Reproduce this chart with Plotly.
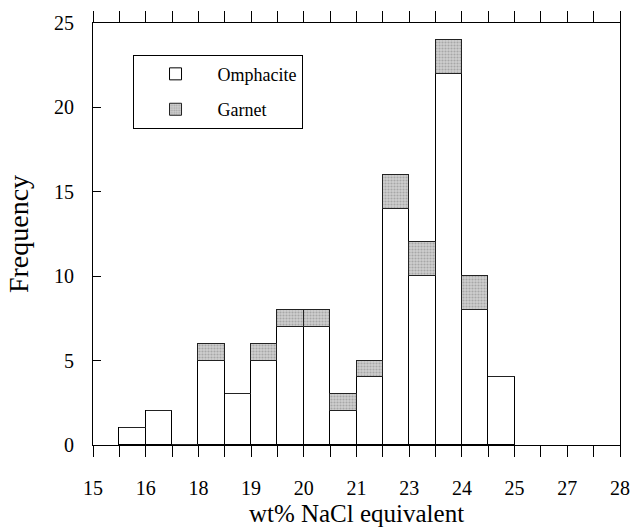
import plotly.graph_objects as go

# Bin centres (wt% NaCl equivalent, 0.5-wide bins on a 15-25 axis)
bin_centers = [15.75, 16.25, 16.75, 17.25, 17.75, 18.25, 18.75, 19.25,
               19.75, 20.25, 20.75, 21.25, 21.75, 22.25, 22.75]
omphacite = [1, 2, 0, 5, 3, 5, 7, 7, 2, 4, 14, 10, 22, 8, 4]
garnet = [0, 0, 0, 1, 0, 1, 1, 1, 1, 1, 2, 2, 2, 2, 0]

# Axis ticks (as printed on the original figure)
x_tick_vals = [15 + 0.5 * i for i in range(21)]
x_label_text = ["15", "16", "18", "19", "20", "21", "23", "24", "25", "27", "28"]
x_tick_text = [x_label_text[i // 2] if i % 2 == 0 else "" for i in range(21)]
y_tick_vals = [0, 5, 10, 15, 20, 25]

FONT = "Liberation Serif"

fig = go.Figure()
fig.add_trace(go.Bar(
    x=bin_centers, y=omphacite, name="Omphacite", width=0.5,
    marker=dict(color="white", line=dict(color="black", width=1)),
    legendgroup="a",
))
fig.add_trace(go.Bar(
    x=bin_centers, y=garnet, name="Garnet", width=0.5,
    marker=dict(color="#c8c8c8", line=dict(color="#222", width=1),
                pattern=dict(shape=".", fgcolor="#808080", bgcolor="#cfcfcf",
                             size=3, solidity=0.4)),
    legendgroup="b",
))

fig.update_layout(
    width=634, height=527,
    margin=dict(l=93, r=14, t=23, b=82),
    barmode="stack", bargap=0,
    paper_bgcolor="white", plot_bgcolor="white",
    font=dict(family=FONT, size=20, color="black"),
    showlegend=True,
    legend=dict(
        x=0.075, y=0.925, xanchor="left", yanchor="top",
        bordercolor="black", borderwidth=1, bgcolor="white",
        font=dict(family=FONT, size=18, color="black"),
        traceorder="grouped", tracegroupgap=9, itemwidth=74,
    ),
    xaxis=dict(
        range=[15, 25], tickmode="array", tickvals=x_tick_vals, ticktext=x_tick_text,
        ticks="outside", ticklen=11, tickwidth=1, tickcolor="black",
        showline=True, linecolor="black", linewidth=1, mirror="ticks",
        showgrid=False, zeroline=False, ticklabelstandoff=14, automargin=False,
        tickfont=dict(family=FONT, size=20),
        title=dict(text="wt% NaCl equivalent", font=dict(family=FONT, size=25), standoff=7),
    ),
    yaxis=dict(
        range=[0, 25], tickmode="array", tickvals=y_tick_vals,
        ticks="inside", ticklen=8, tickwidth=1, tickcolor="black",
        showline=True, linecolor="black", linewidth=1, mirror=True,
        showgrid=False, zeroline=False, ticklabelstandoff=14, automargin=False,
        tickfont=dict(family=FONT, size=20),
        title=dict(text="Frequency", font=dict(family=FONT, size=28), standoff=17),
    ),
)

fig.write_html("out.html")
